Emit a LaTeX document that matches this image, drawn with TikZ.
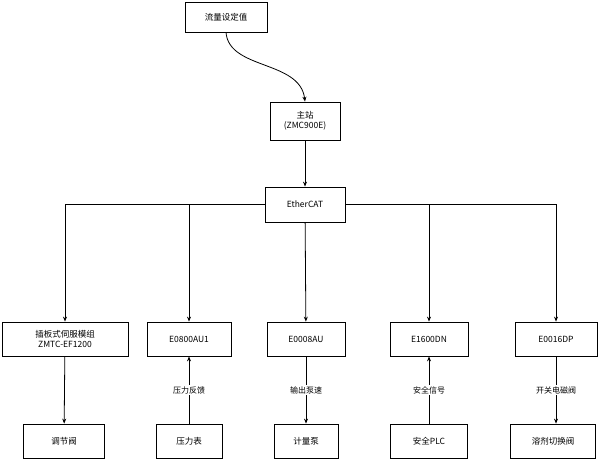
\documentclass[tikz,border=0pt]{standalone}
\usepackage{fontspec}
\setmainfont{Noto Sans CJK SC}
\usetikzlibrary{arrows.meta}
\begin{document}
\begin{tikzpicture}[x=1pt,y=-1pt,
  bx/.style={draw,thick,fill=white,align=center,font=\fontsize{8.5}{10}\selectfont,inner sep=0},
  ar/.style={-{Stealth[length=5pt,width=4pt]},thick},
  lb/.style={fill=white,font=\fontsize{8}{10}\selectfont,inner sep=1pt}]
\useasboundingbox (0,0) rectangle (604,460);
\node[bx,minimum width=82,minimum height=30] (set) at (226,17) {流量设定值};
\node[bx,minimum width=70,minimum height=38] (ms) at (305,121) {主站\\(ZMC900E)};
\node[bx,minimum width=80,minimum height=35] (ec) at (305,204.5) {EtherCAT};
\node[bx,minimum width=126,minimum height=34] (a) at (65,339) {插板式伺服模组\\ZMTC-EF1200};
\node[bx,minimum width=84,minimum height=34] (b) at (189,339) {E0800AU1};
\node[bx,minimum width=78,minimum height=34] (c) at (306,339) {E0008AU};
\node[bx,minimum width=78,minimum height=34] (d) at (429,339) {E1600DN};
\node[bx,minimum width=82,minimum height=34] (e) at (556,339) {E0016DP};
\node[bx,minimum width=81,minimum height=34] (a2) at (64,441) {调节阀};
\node[bx,minimum width=66,minimum height=34] (b2) at (189,441) {压力表};
\node[bx,minimum width=64,minimum height=34] (c2) at (306,441) {计量泵};
\node[bx,minimum width=77,minimum height=34] (d2) at (429,441) {安全PLC};
\node[bx,minimum width=85,minimum height=34] (e2) at (553,441) {溶剂切换阀};
\draw[ar] (set.south) .. controls (229,70) and (300,60) .. (ms.north);
\draw[ar] (ms) -- (ec);
\draw[ar] (ec.west) -- (65,204.5) -- (a.north);
\draw[ar] (189,204.5) -- (b.north);
\draw[ar] (ec) -- (c);
\draw[ar] (429,204.5) -- (d.north);
\draw[ar] (ec.east) -- (556,204.5) -- (e.north);
\draw[ar] (a) -- (a2);
\draw[ar] (b2) -- node[lb]{压力反馈} (b);
\draw[ar] (c) -- node[lb]{输出泵速} (c2);
\draw[ar] (d2) -- node[lb]{安全信号} (d);
\draw[ar] (e.south) -- node[lb]{开关电磁阀} (e.south|-e2.north);
\end{tikzpicture}
\end{document}
